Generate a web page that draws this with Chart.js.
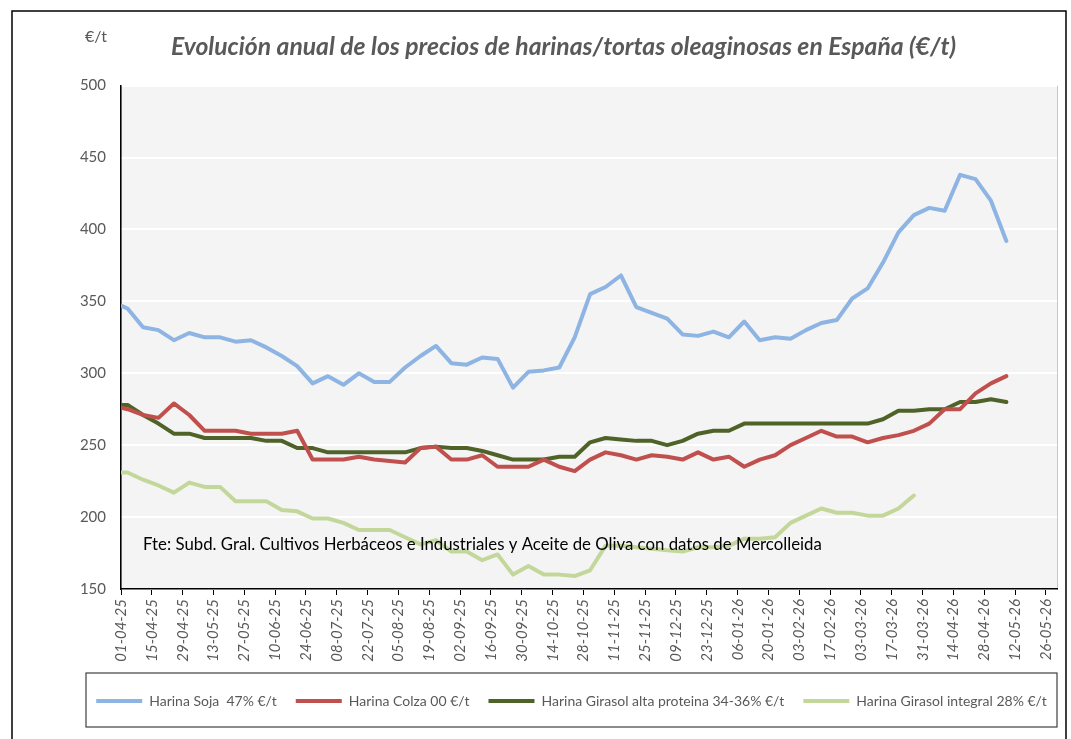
<!DOCTYPE html>
<html lang="es">
<head>
<meta charset="utf-8">
<title>Harinas oleaginosas</title>
<script src="https://cdn.jsdelivr.net/npm/chart.js@4.4.1/dist/chart.umd.min.js"></script>
<style>
  html, body { margin: 0; padding: 0; background: #fff; }
  canvas { display: block; }
</style>
</head>
<body>
<canvas id="grafico" width="1071" height="739"></canvas>
<script>
// fechas de cotización (semanales, viernes)
const fechas = [
  '01-04-25', '04-04-25', '11-04-25', '18-04-25', '25-04-25', '02-05-25', '09-05-25', '16-05-25', '23-05-25', '30-05-25',
  '06-06-25', '13-06-25', '20-06-25', '27-06-25', '04-07-25', '11-07-25', '18-07-25', '25-07-25', '01-08-25', '08-08-25',
  '15-08-25', '22-08-25', '29-08-25', '05-09-25', '12-09-25', '19-09-25', '26-09-25', '03-10-25', '10-10-25', '17-10-25',
  '24-10-25', '31-10-25', '07-11-25', '14-11-25', '21-11-25', '28-11-25', '05-12-25', '12-12-25', '19-12-25', '26-12-25',
  '02-01-26', '09-01-26', '16-01-26', '23-01-26', '30-01-26', '06-02-26', '13-02-26', '20-02-26', '27-02-26', '06-03-26',
  '13-03-26', '20-03-26', '27-03-26', '03-04-26', '10-04-26', '17-04-26', '24-04-26', '01-05-26', '08-05-26'
];

// etiquetas del eje X (cada dos semanas)
const etiquetas = [
  '01-04-25', '15-04-25', '29-04-25', '13-05-25', '27-05-25', '10-06-25', '24-06-25', '08-07-25', '22-07-25', '05-08-25',
  '19-08-25', '02-09-25', '16-09-25', '30-09-25', '14-10-25', '28-10-25', '11-11-25', '25-11-25', '09-12-25', '23-12-25',
  '06-01-26', '20-01-26', '03-02-26', '17-02-26', '03-03-26', '17-03-26', '31-03-26', '14-04-26', '28-04-26', '12-05-26',
  '26-05-26'
];

const soja = [
  347, 345, 332, 330, 323, 328, 325, 325, 322, 323,
  318, 312, 305, 293, 298, 292, 300, 294, 294, 304,
  312, 319, 307, 306, 311, 310, 290, 301, 302, 304,
  325, 355, 360, 368, 346, 342, 338, 327, 326, 329,
  325, 336, 323, 325, 324, 330, 335, 337, 352, 359,
  377, 398, 410, 415, 413, 438, 435, 420, 392
];

const colza = [
  276, 275, 271, 269, 279, 271, 260, 260, 260, 258,
  258, 258, 260, 240, 240, 240, 242, 240, 239, 238,
  248, 249, 240, 240, 243, 235, 235, 235, 240, 235,
  232, 240, 245, 243, 240, 243, 242, 240, 245, 240,
  242, 235, 240, 243, 250, 255, 260, 256, 256, 252,
  255, 257, 260, 265, 275, 275, 286, 293, 298
];

const girasolAlta = [
  278, 278, 271, 265, 258, 258, 255, 255, 255, 255,
  253, 253, 248, 248, 245, 245, 245, 245, 245, 245,
  248, 249, 248, 248, 246, 243, 240, 240, 240, 242,
  242, 252, 255, 254, 253, 253, 250, 253, 258, 260,
  260, 265, 265, 265, 265, 265, 265, 265, 265, 265,
  268, 274, 274, 275, 275, 280, 280, 282, 280
];

const girasolIntegral = [
  231, 231, 226, 222, 217, 224, 221, 221, 211, 211,
  211, 205, 204, 199, 199, 196, 191, 191, 191, 186,
  181, 184, 176, 176, 170, 174, 160, 166, 160, 160,
  159, 163, 180, 180, 179, 178, 177, 176, 179, 179,
  180, 185, 185, 186, 196, 201, 206, 203, 203, 201,
  201, 206, 215
];

const fuente = 'Fte: Subd. Gral. Cultivos Herbáceos e Industriales y Aceite de Oliva con datos de Mercolleida';

// días transcurridos desde el 01-04-25
function dia(f) {
  const [d, m, a] = f.split('-').map(Number);
  return (Date.UTC(2000 + a, m - 1, d) - Date.UTC(2025, 3, 1)) / 86400000;
}

const serie = valores => valores.map((v, i) => ({ x: dia(fechas[i]), y: v }));

const gris = '#595959';
Chart.defaults.font.family = 'Lato';

const decoracion = {
  id: 'decoracion',
  afterLayout(chart) {
    const a = chart.chartArea;
    chart.titleBlock.left = 70;
    chart.titleBlock.right = a.right;
    // se ensancha simétricamente para que no salte de línea al dibujar
    chart.legend.left = a.left - 55;
    chart.legend.right = a.right + 20;
  },
  beforeDraw(chart) {
    const { ctx, chartArea: a } = chart;
    ctx.save();
    ctx.fillStyle = '#F4F4F4';
    ctx.fillRect(a.left, a.top, a.right - a.left, a.bottom - a.top);
    ctx.strokeStyle = '#C8C8C8';
    ctx.lineWidth = 1;
    ctx.strokeRect(a.left + 0.5, a.top + 0.5, a.right - a.left, a.bottom - a.top);
    ctx.restore();
  },
  afterDatasetsDraw(chart) {
    const { ctx, chartArea: a } = chart;
    ctx.save();
    ctx.font = '16.8px Lato';
    ctx.fillStyle = '#000';
    ctx.textBaseline = 'middle';
    ctx.fillText(fuente, a.left + 22, chart.scales.y.getPixelForValue(181));
    ctx.restore();
  },
  afterDraw(chart) {
    const { ctx, chartArea: a, legend } = chart;
    ctx.save();
    ctx.strokeStyle = '#000';
    ctx.lineWidth = 1.5;
    // marco exterior
    ctx.strokeRect(12, 11, 1054, 740);
    // caja de la leyenda
    ctx.lineWidth = 1.2;
    ctx.strokeStyle = '#404040';
    ctx.strokeRect(a.left - 35, legend.top - 2, a.right - a.left + 35, legend.height + 11);
    // unidad del eje
    ctx.font = '16px Lato';
    ctx.fillStyle = gris;
    ctx.textAlign = 'center';
    ctx.textBaseline = 'middle';
    ctx.fillText('€/t', 96, 37);
    ctx.restore();
  }
};

const comun = {
  pointRadius: 0,
  borderWidth: 4,
  tension: 0,
  borderJoinStyle: 'round',
  borderCapStyle: 'round'
};

new Chart(document.getElementById('grafico'), {
  type: 'line',
  data: {
    datasets: [
      { ...comun, label: 'Harina Soja  47% €/t', data: serie(soja), borderColor: '#8DB4E2', backgroundColor: '#8DB4E2' },
      { ...comun, label: 'Harina Colza 00 €/t', data: serie(colza), borderColor: '#C0504D', backgroundColor: '#C0504D' },
      { ...comun, label: 'Harina Girasol alta proteina 34-36% €/t', data: serie(girasolAlta), borderColor: '#4F6228', backgroundColor: '#4F6228' },
      { ...comun, label: 'Harina Girasol integral 28% €/t', data: serie(girasolIntegral), borderColor: '#C4D79B', backgroundColor: '#C4D79B' }
    ]
  },
  options: {
    responsive: false,
    animation: false,
    devicePixelRatio: 1,
    layout: { padding: { top: 18, left: 14, right: 14, bottom: 21 } },
    plugins: {
      title: {
        display: true,
        text: 'Evolución anual de los precios de harinas/tortas oleaginosas en España (€/t)',
        color: gris,
        font: { size: 24.7, style: 'italic', weight: 'bold' },
        padding: { top: 14, bottom: 24 }
      },
      legend: {
        position: 'bottom',
        labels: {
          usePointStyle: true,
          pointStyle: 'line',
          pointStyleWidth: 46,
          boxWidth: 46,
          padding: 19,
          color: gris,
          font: { size: 14 }
        }
      },
      tooltip: { enabled: false }
    },
    scales: {
      x: {
        type: 'linear',
        min: 0,
        max: 425,
        afterBuildTicks: s => { s.ticks = etiquetas.map(e => ({ value: dia(e) })); },
        afterFit: s => { s.height = 86; },
        grid: { drawOnChartArea: false, color: '#000', tickLength: 6 },
        border: { color: '#000', width: 1.5 },
        ticks: {
          autoSkip: false,
          minRotation: 90,
          maxRotation: 90,
          padding: 4,
          color: gris,
          font: { size: 15, style: 'italic' },
          callback: v => etiquetas.find(e => dia(e) === v)
        }
      },
      y: {
        min: 150,
        max: 500,
        afterFit: s => { s.width = 107; },
        grid: { color: '#FFFFFF', lineWidth: 2, drawTicks: false },
        border: { color: '#000', width: 1.5 },
        ticks: { stepSize: 50, padding: 15, color: gris, font: { size: 15 } }
      }
    }
  },
  plugins: [decoracion]
});
</script>
</body>
</html>
